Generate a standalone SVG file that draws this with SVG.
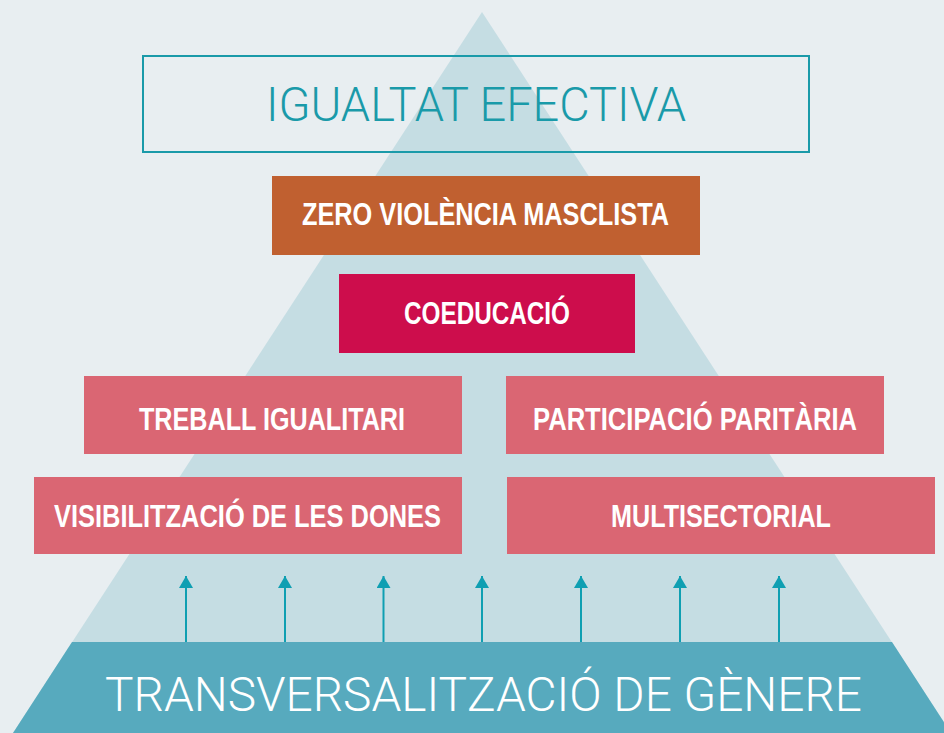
<svg xmlns="http://www.w3.org/2000/svg" width="944" height="733" viewBox="0 0 944 733">
  <style>
    .bold { font-family: "Liberation Sans", Arial, sans-serif; font-weight: bold; font-size: 31px; fill: #ffffff; }
    .light { font-family: Roboto, "Liberation Sans", sans-serif; font-weight: 300; font-size: 48px; }
    .arrow { stroke: #0f9fb2; stroke-width: 2; fill: none; marker-end: url(#head); }
  </style>
  <defs>
    <marker id="head" viewBox="0 0 12 14" refX="12" refY="7" markerWidth="12" markerHeight="14" markerUnits="userSpaceOnUse" orient="auto">
      <path d="M0,0 L12,7 L0,14 Z" fill="#0f9fb2"/>
    </marker>
  </defs>
  <rect width="944" height="733" fill="#e8eef1"/>
  <polygon points="482,12 951,733 13,733" fill="#c5dde3"/>

  <g id="igualtat">
    <rect x="143" y="56" width="666" height="96" fill="none" stroke="#1a9aa9" stroke-width="2"/>
    <text class="light" x="266" y="121" textLength="420" lengthAdjust="spacingAndGlyphs" fill="#1a9aa9">IGUALTAT EFECTIVA</text>
  </g>

  <g id="zero-violencia">
    <rect x="272" y="176" width="428" height="79" fill="#c06030"/>
    <text class="bold" x="302" y="225" textLength="367" lengthAdjust="spacingAndGlyphs">ZERO VIOLÈNCIA MASCLISTA</text>
  </g>

  <g id="coeducacio">
    <rect x="339" y="274" width="296" height="79" fill="#cd0d4c"/>
    <text class="bold" x="404" y="323.5" textLength="166" lengthAdjust="spacingAndGlyphs">COEDUCACIÓ</text>
  </g>

  <g id="treball">
    <rect x="84" y="376" width="378" height="78" fill="#da6673"/>
    <text class="bold" x="139" y="429.5" textLength="266" lengthAdjust="spacingAndGlyphs">TREBALL IGUALITARI</text>
  </g>

  <g id="participacio">
    <rect x="506" y="376" width="378" height="78" fill="#da6673"/>
    <text class="bold" x="533" y="429.5" textLength="324" lengthAdjust="spacingAndGlyphs">PARTICIPACIÓ PARITÀRIA</text>
  </g>

  <g id="visibilitzacio">
    <rect x="34" y="477" width="428" height="77" fill="#da6673"/>
    <text class="bold" x="54" y="527" textLength="387" lengthAdjust="spacingAndGlyphs">VISIBILITZACIÓ DE LES DONES</text>
  </g>

  <g id="multisectorial">
    <rect x="507" y="477" width="428" height="77" fill="#da6673"/>
    <text class="bold" x="611" y="527" textLength="220" lengthAdjust="spacingAndGlyphs">MULTISECTORIAL</text>
  </g>

  <g id="connectors">
    <line class="arrow" x1="186" y1="642" x2="186" y2="576"/>
    <line class="arrow" x1="285" y1="642" x2="285" y2="576"/>
    <line class="arrow" x1="383.5" y1="642" x2="383.5" y2="576"/>
    <line class="arrow" x1="482" y1="642" x2="482" y2="576"/>
    <line class="arrow" x1="581" y1="642" x2="581" y2="576"/>
    <line class="arrow" x1="680" y1="642" x2="680" y2="576"/>
    <line class="arrow" x1="779" y1="642" x2="779" y2="576"/>
  </g>

  <g id="transversalitzacio">
    <polygon points="72,642 892,642 951,733 13,733" fill="#57aabe"/>
    <text class="light" x="105" y="711" textLength="757" lengthAdjust="spacingAndGlyphs" fill="#ffffff">TRANSVERSALITZACIÓ DE GÈNERE</text>
  </g>
</svg>
